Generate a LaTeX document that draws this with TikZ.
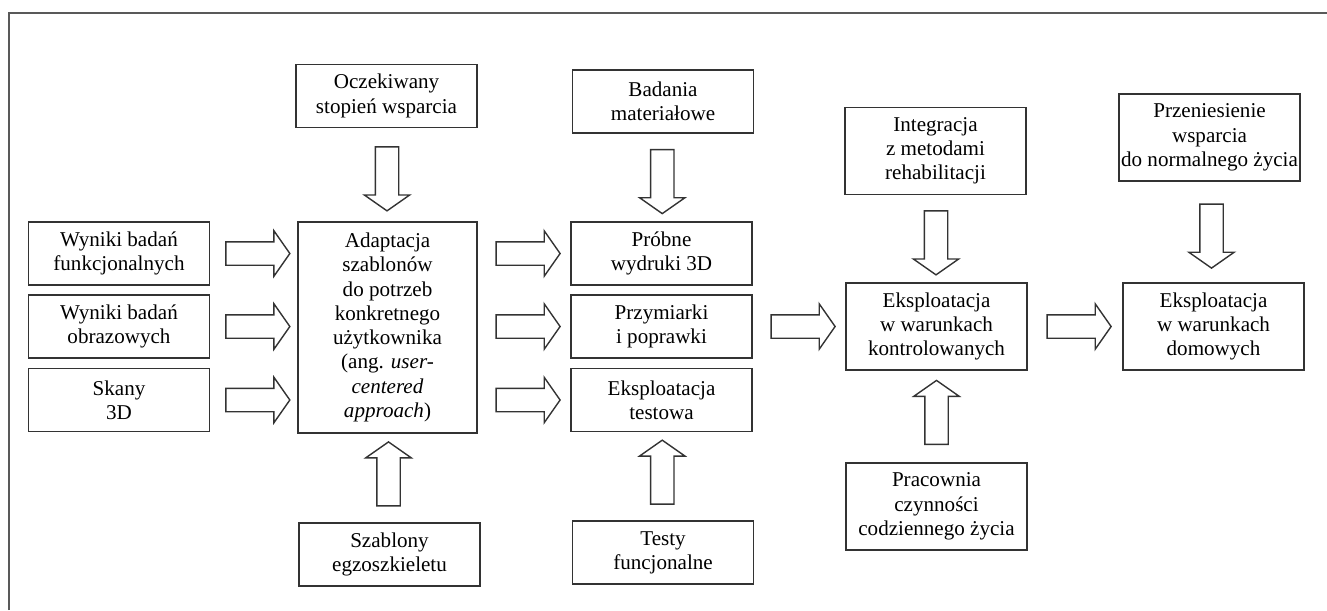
\documentclass[tikz,border=0pt]{standalone}
\usepackage{fontspec}
\setmainfont{Liberation Serif}
\usetikzlibrary{positioning,shapes.arrows,calc}
\tikzset{
    %Define style for boxes
    blk/.style={
           rectangle,
           draw=black!80, line width=0.8pt,
           minimum width=3.62cm,
           minimum height=1.26cm,
           inner sep=0pt,
           align=center,
           font=\fontsize{12}{13.8}\selectfont},
    tallblk/.style={
           blk,
           minimum height=1.74cm},
    % Define block arrow style
    barr/.style={
           single arrow,
           draw=black!80, line width=0.8pt,
           minimum height=1.28cm,
           minimum width=0.88cm,
           single arrow head extend=0.22cm,
           single arrow tip angle=110,
           inner xsep=0pt, inner ysep=0.22cm},
    downarr/.style={barr, rotate=-90},
    uparr/.style={barr, rotate=90}
}
\begin{document}
\begin{tikzpicture}[x=0.02cm, y=-0.02cm]
    \useasboundingbox (0,0) rectangle (1327,610);
    % FRAME
    \draw[black!65, line width=0.8pt] (9,610) -- (9,13) -- (1327,13);

    % INPUTS
    \node[blk] at (119,253.5) (wfun) {Wyniki badań\\funkcjonalnych};
    \node[blk] at (119,326.5) (wobr) {Wyniki badań\\obrazowych};
    \node[blk] at (119,400) (skany) {Skany\\3D};

    % ADAPTATION
    \node[blk] at (386.5,96) (ocz) {Oczekiwany\\stopień wsparcia};
    \node[blk, minimum width=3.58cm, minimum height=4.22cm] at (387.5,327.5) (adapt)
        {Adaptacja\\szablonów\\do potrzeb\\konkretnego\\użytkownika\\(ang. \textit{user-}\\\textit{centered}\\\textit{approach})};
    \node[blk] at (389.5,554.5) (szab) {Szablony\\egzoszkieletu};

    % PROTOTYPES
    \node[blk] at (663,101.5) (bad) {Badania\\materiałowe};
    \node[blk] at (661.5,253.5) (prob) {Próbne\\wydruki 3D};
    \node[blk] at (661.5,326.5) (przym) {Przymiarki\\i poprawki};
    \node[blk] at (661.5,400) (etest) {Eksploatacja\\testowa};
    \node[blk] at (663,552.5) (testy) {Testy\\funcjonalne};

    % CONTROLLED USE
    \node[tallblk] at (935.5,151) (integr) {Integracja\\z metodami\\rehabilitacji};
    \node[tallblk] at (936.5,326.5) (ekctrl) {Eksploatacja\\w warunkach\\kontrolowanych};
    \node[tallblk] at (936.5,506.5) (prac) {Pracownia\\czynności\\codziennego życia};

    % HOME USE
    \node[tallblk] at (1209.5,137.5) (przen) {Przeniesienie\\wsparcia\\do normalnego życia};
    \node[tallblk] at (1213.5,326.5) (ekdom) {Eksploatacja\\w warunkach\\domowych};

    % ARROWS
    \foreach \src in {wfun,wobr,skany}
        \node[barr] at ($(\src.east)!0.5!(adapt.west|-\src.east)$) {};
    \foreach \dst in {prob,przym,etest}
        \node[barr] at ($(adapt.east|-\dst.west)!0.5!(\dst.west)$) {};
    \node[downarr] at ($(ocz.south)!0.5!(adapt.north)$) (a1) {};
    \node[uparr] at ($(szab.north)!0.5!(adapt.south)$) (a2) {};
    \node[downarr] at ($(bad.south)!0.5!(prob.north)$) (a3) {};
    \node[uparr] at ($(testy.north)!0.5!(etest.south)$) (a4) {};
    \node[barr] at ($(przym.east)!0.5!(ekctrl.west)$) (a5) {};
    \node[downarr] at ($(integr.south)!0.5!(ekctrl.north)$) (a6) {};
    \node[uparr] at ($(prac.north)!0.5!(ekctrl.south)$) (a7) {};
    \node[barr] at ($(ekctrl.east)!0.5!(ekdom.west)$) (a8) {};
    \node[downarr] at ($(przen.south)!0.5!(ekdom.north)$) (a9) {};
\end{tikzpicture}
\end{document}
